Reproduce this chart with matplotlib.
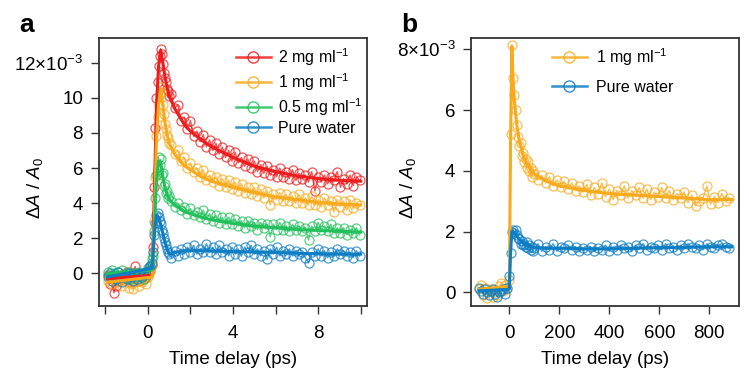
import matplotlib
matplotlib.use("Agg")
import matplotlib.pyplot as plt
from matplotlib.lines import Line2D
from matplotlib.ticker import FixedLocator, FuncFormatter
import numpy as np

plt.rcParams["font.family"] = ["Liberation Sans", "DejaVu Sans"]
plt.rcParams["mathtext.fontset"] = "custom"
plt.rcParams["mathtext.rm"] = "Liberation Sans"
plt.rcParams["mathtext.it"] = "Liberation Sans:italic"
plt.rcParams["mathtext.bf"] = "Liberation Sans:bold"

# ---- panel a : time delay (ps), values in units of 1e-3 ----
t_base = [-1.9, -1.8, -1.7, -1.6, -1.5, -1.4, -1.3, -1.2, -1.1, -1.0, -0.9,
          -0.8, -0.7, -0.6, -0.5, -0.4, -0.3, -0.2, -0.1, 0.0, 0.1, 0.2]
t_rise = [0.25, 0.3, 0.35, 0.4, 0.45, 0.5, 0.55, 0.6, 0.65, 0.7, 0.75, 0.8,
          0.85, 0.9, 0.95, 1.0]
t_late = [1.1, 1.25, 1.4, 1.55, 1.7, 1.85, 2.0, 2.15, 2.3, 2.45, 2.6, 2.75,
          2.9, 3.05, 3.2, 3.35, 3.5, 3.65, 3.8, 3.95, 4.1, 4.25, 4.4, 4.55,
          4.7, 4.85, 5.0, 5.15, 5.3, 5.45, 5.6, 5.75, 5.9, 6.05, 6.2, 6.35,
          6.5, 6.65, 6.8, 6.95, 7.1, 7.25, 7.4, 7.55, 7.7, 7.85, 8.0, 8.15,
          8.3, 8.45, 8.6, 8.75, 8.9, 9.05, 9.2, 9.35, 9.5, 9.65, 9.8, 9.95]

red_base = [-0.1, -0.6, -0.3, -1.1, -0.7, -0.4, -0.2, -0.3, -0.1, 0.1, -0.3,
            -0.5, 0.0, 0.4, -0.2, -0.4, -0.1, -0.3, -0.2, 0.0, 0.2, 0.5]
red_rise = [1.5, 4.9, 8.3, 10.0, 10.9, 11.8, 12.4, 12.8, 12.5, 11.9, 11.4,
            11.1, 10.9, 10.5, 10.4, 10.1]
red_late = [10.2, 9.4, 9.6, 8.7, 8.9, 8.2, 8.7, 7.8, 8.1, 7.5,
            7.9, 7.2, 7.6, 7.0, 7.4, 6.8, 7.2, 6.6, 7.0, 6.4,
            6.9, 6.3, 6.6, 6.1, 6.5, 6.0, 6.4, 5.8, 6.2, 5.7,
            6.1, 5.6, 5.9, 5.5, 6.0, 5.5, 5.8, 5.4, 5.9, 5.3,
            5.7, 5.4, 5.6, 5.2, 5.8, 4.7, 5.5, 5.2, 5.6, 5.1,
            5.5, 5.3, 5.8, 4.9, 5.4, 5.1, 5.6, 5.0, 5.5, 5.3]

orange_base = [-0.4, -0.2, -0.6, -0.3, -0.5, -0.2, -0.4, -0.7, -0.3, -0.5,
               -0.8, -0.6, -0.9, -0.5, -0.4, -0.7, -0.5, -0.3, -0.6, -0.2,
               0.1, 0.5]
orange_rise = [1.2, 3.0, 5.5, 7.8, 8.9, 9.6, 10.2, 10.6, 10.3, 9.6, 9.1, 8.5,
               8.2, 7.9, 7.7, 7.4]
orange_late = [7.3, 6.8, 7.0, 6.4, 6.6, 6.0, 6.3, 5.8, 6.0, 5.5,
               5.9, 5.3, 5.6, 5.2, 5.5, 5.0, 5.4, 4.9, 5.3, 4.8,
               5.2, 4.7, 5.1, 4.6, 4.9, 4.5, 4.9, 4.4, 4.8, 4.3,
               4.7, 3.9, 4.5, 4.2, 4.6, 4.1, 4.5, 4.1, 4.4, 4.0,
               4.5, 4.0, 4.3, 3.9, 4.4, 3.9, 4.2, 3.8, 4.3, 3.9,
               4.1, 3.5, 4.2, 3.8, 4.1, 3.6, 4.2, 3.7, 4.0, 3.9]

green_base = [0.1, -0.2, 0.2, 0.0, -0.3, 0.1, -0.1, 0.2, -0.2, 0.0, 0.1,
              -0.3, -0.1, 0.0, -0.2, 0.1, -0.1, -0.3, 0.0, 0.2, 0.4, 0.8]
green_rise = [1.0, 2.4, 4.3, 5.6, 5.9, 6.6, 6.2, 6.5, 5.6, 5.7, 5.0, 5.1,
              4.6, 4.7, 4.3, 4.4]
green_late = [4.1, 3.8, 4.0, 3.6, 3.8, 3.4, 3.7, 3.3, 3.5, 3.2,
              3.6, 3.1, 3.4, 3.0, 3.3, 2.9, 3.2, 2.8, 3.2, 2.8,
              3.1, 2.7, 3.0, 2.6, 3.0, 2.7, 2.9, 2.5, 2.9, 2.6,
              2.8, 2.1, 2.8, 2.5, 2.9, 2.5, 2.7, 2.4, 2.8, 2.5,
              2.7, 2.4, 2.6, 1.9, 2.7, 2.4, 2.9, 2.5, 2.7, 2.4,
              2.8, 2.3, 2.6, 2.3, 2.6, 2.2, 2.5, 2.3, 2.6, 2.2]

blue_base = [-0.2, 0.0, -0.4, -0.1, -0.3, 0.1, -0.2, -0.5, -0.1, -0.3, 0.0,
             -0.2, -0.4, -0.1, -0.3, 0.0, -0.2, -0.1, 0.1, 0.3, 0.4, 0.6]
blue_rise = [1.2, 2.2, 2.9, 3.3, 3.45, 3.2, 3.0, 2.8, 2.5, 2.3, 2.0, 1.8,
             1.6, 1.4, 1.2, 1.1]
blue_late = [0.9, 1.3, 1.0, 1.4, 1.1, 1.5, 1.2, 1.6, 1.1, 1.4,
             1.2, 1.7, 1.2, 1.5, 1.1, 1.6, 1.2, 1.4, 1.0, 1.5,
             1.1, 1.4, 1.0, 1.5, 1.2, 1.6, 1.1, 1.4, 1.0, 1.3,
             0.8, 1.4, 1.1, 1.5, 1.0, 1.3, 1.1, 1.4, 1.0, 1.3,
             1.1, 1.2, 0.9, 0.6, 1.2, 1.0, 1.4, 1.0, 1.3, 0.9,
             1.2, 1.0, 1.4, 1.1, 1.3, 1.0, 1.2, 0.9, 1.3, 1.0]

# smooth curves
t_fit = [-1.9, 0.2, 0.3, 0.4, 0.5, 0.6, 0.7, 0.8, 0.9, 1.0, 1.25, 1.5, 1.75,
         2.0, 2.5, 3.0, 3.5, 4.0, 5.0, 6.0, 7.0, 8.0, 9.0, 10.0]
red_fit = [-0.3, -0.1, 4.5, 9.5, 11.8, 12.7, 12.0, 11.2, 10.6, 10.1, 9.4, 8.9,
           8.4, 8.1, 7.6, 7.2, 6.9, 6.6, 6.1, 5.8, 5.55, 5.4, 5.3, 5.25]
orange_fit = [-0.5, -0.2, 3.0, 7.5, 9.6, 10.5, 9.6, 8.6, 7.9, 7.4, 6.8, 6.4,
              6.1, 5.9, 5.5, 5.25, 5.05, 4.9, 4.6, 4.35, 4.2, 4.05, 3.95, 3.9]
green_fit = [0.0, 0.2, 2.4, 5.3, 6.4, 6.3, 5.5, 4.9, 4.5, 4.2, 3.9, 3.7, 3.5,
             3.4, 3.2, 3.05, 2.95, 2.85, 2.7, 2.6, 2.5, 2.45, 2.4, 2.35]
blue_fit = [-0.2, 0.3, 2.2, 3.3, 3.2, 2.8, 2.3, 1.8, 1.4, 1.1, 1.2, 1.25, 1.3,
            1.3, 1.3, 1.28, 1.26, 1.25, 1.22, 1.2, 1.15, 1.12, 1.1, 1.1]

# ---- panel b ----
tb_base = [-120, -112, -104, -96, -88, -80, -72, -64, -56, -48, -40, -32,
           -24, -16, -8]
tb_early = [0, 5, 10, 15, 20, 25, 30, 35, 40, 45, 50, 55, 60, 65, 70, 75, 80,
            85, 90, 95]
tb_late = [100, 115, 130, 145, 160, 175, 190, 205, 220, 235, 250, 265, 280,
           295, 310, 325, 340, 355, 370, 385, 400, 415, 430, 445, 460, 475,
           490, 505, 520, 535, 550, 565, 580, 595, 610, 625, 640, 655, 670,
           685, 700, 715, 730, 745, 760, 775, 790, 805, 820, 835, 850, 865, 880]

ob_base = [0.1, 0.25, -0.1, 0.15, -0.2, 0.05, 0.1, -0.15, 0.0, -0.1, 0.2,
           0.3, 0.05, 0.25, 0.1]
ob_early = [0.4, 5.2, 8.15, 7.05, 6.5, 6.0, 5.5, 5.1, 4.8, 4.9, 4.5, 4.6,
            4.3, 4.4, 4.1, 4.3, 4.0, 4.1, 3.8, 4.0]
ob_late = [3.9, 3.7, 3.85, 3.6, 3.8, 3.5, 3.7, 3.45, 3.65, 3.4,
           3.6, 3.35, 3.5, 3.3, 3.55, 3.2, 3.45, 3.25, 3.6, 3.15,
           3.4, 3.05, 3.35, 3.2, 3.5, 3.1, 3.35, 3.2, 3.45, 3.1,
           3.4, 3.05, 3.3, 3.15, 3.45, 3.1, 3.35, 3.05, 3.25, 3.1,
           3.3, 2.95, 3.2, 2.85, 3.0, 3.1, 3.5, 2.9, 3.15, 2.95,
           3.25, 3.0, 3.1]

bb_base = [0.15, 0.05, -0.05, 0.1, 0.0, -0.1, 0.05, 0.1, -0.05, -0.15, 0.0,
           0.05, 0.1, -0.05, 0.15]
bb_early = [0.55, 1.3, 2.0, 2.05, 1.95, 2.05, 1.9, 1.8, 1.75, 1.6, 1.7, 1.55,
            1.6, 1.5, 1.65, 1.45, 1.55, 1.4, 1.5, 1.35]
bb_late = [1.45, 1.6, 1.35, 1.5, 1.4, 1.6, 1.35, 1.5, 1.45, 1.55,
           1.4, 1.5, 1.35, 1.45, 1.4, 1.5, 1.35, 1.45, 1.4, 1.55,
           1.35, 1.5, 1.4, 1.55, 1.45, 1.5, 1.35, 1.55, 1.45, 1.6,
           1.4, 1.5, 1.45, 1.55, 1.4, 1.6, 1.45, 1.5, 1.4, 1.55,
           1.45, 1.6, 1.5, 1.45, 1.55, 1.4, 1.6, 1.5, 1.45, 1.55,
           1.6, 1.5, 1.45]

tb_fit = [-120, 0, 5, 10, 15, 20, 30, 40, 60, 80, 100, 150, 200, 300, 400,
          500, 600, 700, 800, 890]
ob_fit = [0.1, 0.2, 5.0, 8.1, 7.0, 6.3, 5.5, 5.0, 4.4, 4.1, 3.9, 3.65, 3.5,
          3.35, 3.25, 3.2, 3.15, 3.1, 3.05, 3.05]
bb_fit = [0.05, 0.1, 1.3, 2.0, 2.0, 1.95, 1.85, 1.75, 1.6, 1.52, 1.48, 1.45,
          1.45, 1.43, 1.43, 1.45, 1.47, 1.48, 1.5, 1.5]

RED, ORANGE, GREEN, BLUE = "#ee1c1c", "#f8aa1c", "#22c05a", "#0d7dc4"

labels_a = ["2 mg ml$^{-1}$", "1 mg ml$^{-1}$", "0.5 mg ml$^{-1}$", "Pure water"]
labels_b = ["1 mg ml$^{-1}$", "Pure water"]

t_a = np.array(t_base + t_rise + t_late)
series_a = [
    (red_base + red_rise + red_late, red_fit, RED),
    (orange_base + orange_rise + orange_late, orange_fit, ORANGE),
    (green_base + green_rise + green_late, green_fit, GREEN),
    (blue_base + blue_rise + blue_late, blue_fit, BLUE),
]
t_b = np.array(tb_base + tb_early + tb_late)
series_b = [
    (ob_base + ob_early + ob_late, ob_fit, ORANGE),
    (bb_base + bb_early + bb_late, bb_fit, BLUE),
]

fig = plt.figure(figsize=(7.49, 3.75), dpi=100)
ax1 = fig.add_axes([0.1322, 0.184, 0.3578, 0.7147])
ax2 = fig.add_axes([0.6293, 0.184, 0.3574, 0.7147])


def draw(ax, t, series, t_fit_vals):
    for y, _, c in series:
        ax.plot(t, y, color=c, lw=1.0, marker="o", ms=6.5, mfc="none",
                mec=c, mew=0.9, alpha=0.75)
    for _, yf, c in series:
        ax.plot(t_fit_vals, yf, color=c, lw=2.2)


draw(ax1, t_a, series_a, t_fit)
draw(ax2, t_b, series_b, tb_fit)

for ax in (ax1, ax2):
    for s in ax.spines.values():
        s.set_linewidth(1.3)
        s.set_color("#333333")
    ax.tick_params(which="both", direction="out", length=5.5, width=1.0,
                   labelsize=13.5, pad=6, color="#333333")
    ax.tick_params(axis="x", which="both", pad=8)
    ax.set_xlabel("Time delay (ps)", fontsize=13.5, labelpad=7)
    ax.set_ylabel(r"$\Delta A$ / $A_0$", fontsize=13.5)

# panel a axes
ax1.set_xlim(-2.3, 10.3)
ax1.set_ylim(-1.85, 13.4)
ax1.xaxis.set_major_locator(FixedLocator([0, 4, 8]))
ax1.xaxis.set_minor_locator(FixedLocator([-2, 2, 6, 10]))
ax1.set_yticks([0, 2, 4, 6, 8, 10, 12])
ax1.yaxis.set_major_formatter(FuncFormatter(
    lambda v, p: r"12$\times$10$^{-3}$" if v == 12 else f"{v:g}"))
ax1.yaxis.set_label_coords(-0.2, 0.44)

# panel b axes
ax2.set_xlim(-152, 919)
ax2.set_ylim(-0.45, 8.37)
ax2.set_xticks([0, 200, 400, 600, 800])
ax2.set_yticks([0, 2, 4, 6, 8])
ax2.yaxis.set_major_formatter(FuncFormatter(
    lambda v, p: r"8$\times$10$^{-3}$" if v == 8 else f"{v:g}"))
ax2.yaxis.set_label_coords(-0.2, 0.44)


def handles(cols):
    return [Line2D([], [], color=c, lw=1.8, marker="o", ms=8, mfc="none",
                   mec=c, mew=1.0, alpha=0.85) for c in cols]


ax1.legend(handles([RED, ORANGE, GREEN, BLUE]), labels_a, loc="upper left",
           bbox_to_anchor=(0.51, 0.97), frameon=False, fontsize=11.5,
           borderpad=0, borderaxespad=0, handlelength=2.2, handletextpad=0.45,
           labelspacing=0.2)
ax2.legend(handles([ORANGE, BLUE]), labels_b, loc="upper left",
           bbox_to_anchor=(0.3, 0.97), frameon=False, fontsize=11.5,
           borderpad=0, borderaxespad=0, handlelength=2.2, handletextpad=0.55,
           labelspacing=0.75)

fig.text(0.026, 0.915, "a", fontsize=19, fontweight="bold", va="baseline")
fig.text(0.536, 0.915, "b", fontsize=19, fontweight="bold", va="baseline")

fig.savefig("out.png", dpi=100)
